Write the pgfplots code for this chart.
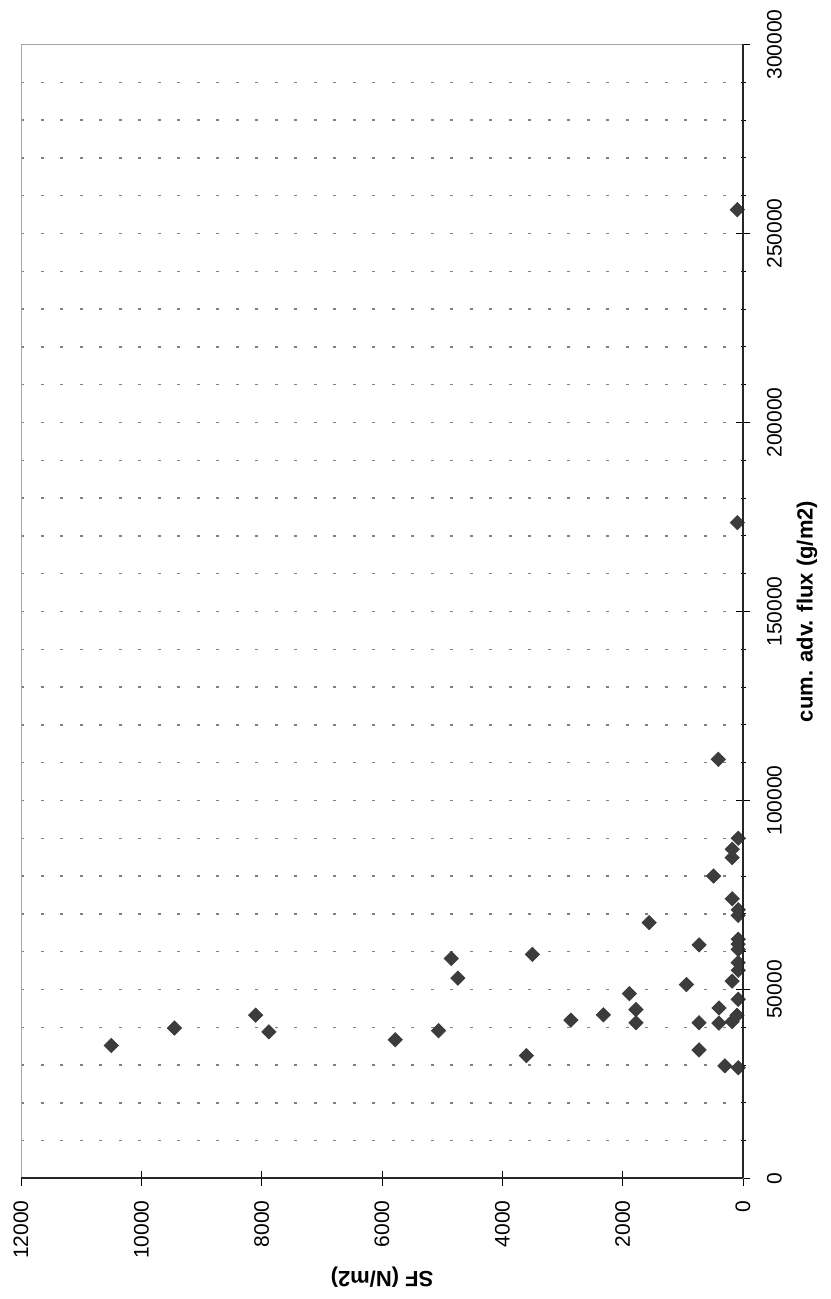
\documentclass[border=0pt]{standalone}
\usepackage{fontspec}
\setmainfont{Liberation Sans}
\usepackage{pgfplots}
\usepackage{pgfplotstable}
\pgfplotsset{compat=1.18}
\definecolor{markgray}{HTML}{3C3C3C}
\definecolor{gridgray}{HTML}{808080}
\pgfplotstableread{
SF flux
10500 35200
9450 39800
8100 43200
7880 38800
5780 36700
5060 39100
4850 58200
4740 53000
3500 59300
3600 32500
2860 41900
2320 43300
1890 48900
1780 44700
1780 41200
1560 67700
940 51300
730 61800
730 41200
730 34000
490 80000
410 110900
400 45100
400 41100
300 29800
180 87100
180 84900
180 74000
180 52200
180 41500
80 90000
80 71100
80 69600
80 63300
80 62000
80 60600
80 57100
80 55100
80 47400
100 43200
80 29300
95 256300
95 173500
}\datatable
\begin{document}
\begin{tikzpicture}[x=1pt,y=1pt]
\path[use as bounding box] (0,0) rectangle (415,649.5);
\begin{axis}[
  at={(10.5pt,60.25pt)}, anchor=south west,
  scale only axis, width=361pt, height=567pt,
  xmin=-12000, xmax=0, ymin=0, ymax=300000,
  xtick={-12000,-10000,-8000,-6000,-4000,-2000,0},
  xticklabels={12000,10000,8000,6000,4000,2000,0},
  ytick={0,50000,100000,150000,200000,250000,300000},
  yticklabels={0,50000,100000,150000,200000,250000,300000},
  minor y tick num=4,
  ymajorgrids, yminorgrids,
  major grid style={gridgray, line width=0.65pt, dash pattern=on 1.5pt off 8.25pt},
  minor grid style={gridgray, line width=0.65pt, dash pattern=on 1.5pt off 8.25pt},
  xtick pos=left, ytick pos=right,
  tick align=center,
  major tick length=7pt, minor tick length=2.5pt,
  tick style={black, line width=0.5pt},
  scaled x ticks=false, scaled y ticks=false,
  xticklabel shift=4pt, yticklabel shift=5pt,
  xticklabel style={rotate=90, anchor=east, font=\fontsize{10.5}{12}\selectfont},
  yticklabel style={rotate=90, anchor=north, font=\fontsize{10.5}{12}\selectfont},
  axis line style={gray!70, line width=0.5pt},
  clip=false,
]
\addplot[only marks, mark=square*, mark size=2.5pt,
  mark options={rotate=45, fill=markgray, draw=markgray}]
  table[x expr=-\thisrow{SF}, y=flux] {\datatable};
\end{axis}
\draw[black!85, line width=1pt] (10.5,60.25) -- (371.5,60.25);
\draw[black!85, line width=0.8pt] (371.5,60.25) -- (371.5,627.25);
\node[rotate=180, font=\bfseries\fontsize{11}{13}\selectfont] at (191,11) {SF (N/m2)};
\node[rotate=90, font=\bfseries\fontsize{11}{13}\selectfont] at (403.5,343.75) {cum. adv. flux (g/m2)};
\end{tikzpicture}
\end{document}
